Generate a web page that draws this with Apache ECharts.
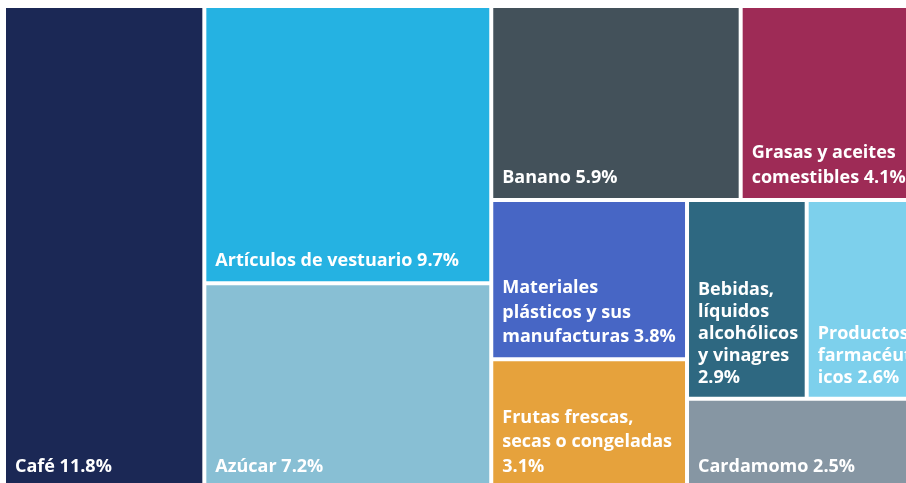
<!DOCTYPE html>
<html><head><meta charset="utf-8">
<script src="https://cdn.jsdelivr.net/npm/echarts@6/dist/echarts.min.js"></script>
<style>html,body{margin:0;padding:0;background:#fff;overflow:hidden}#c{width:906px;height:483px}</style>
</head><body><div id="c"></div>
<script>
const names = ['Café','Artículos de vestuario','Azúcar','Banano','Grasas y aceites comestibles','Materiales plásticos y sus manufacturas','Frutas frescas, secas o congeladas','Bebidas, líquidos alcohólicos y vinagres','Productos farmacéuticos','Cardamomo'];
// label text as wrapped in the reference
const labelNames = ['Café','Artículos de vestuario','Azúcar','Banano','Grasas y aceites\ncomestibles','Materiales\nplásticos y sus\nmanufacturas','Frutas frescas,\nsecas o congeladas\n','Bebidas,\nlíquidos\nalcohólicos\ny vinagres\n','Productos\nfarmacéut\nicos','Cardamomo'];
const values = [11.8, 9.7, 7.2, 5.9, 4.1, 3.8, 3.1, 2.9, 2.6, 2.5];
const colors = ['#1b2855','#25b2e2','#88bfd4','#43515a','#9e2b56','#4766c5','#e6a23c','#2e6881','#7dd0ec','#8696a3'];
// hierarchy of the blocks (indexes into the arrays above)
const groups = [0, [1, 2], [[3, 4], [5, 6], [7, 8], 9]];
// blocks whose labels use tighter line spacing
const tight = [7, 8];

function build(g) {
  if (Array.isArray(g)) {
    return { name: '', itemStyle: { borderWidth: 0, gapWidth: 0 }, children: g.map(build) };
  }
  const item = { name: names[g], value: values[g], itemStyle: { color: colors[g], borderWidth: 2, borderColor: '#fff' } };
  if (tight.includes(g)) item.label = { lineHeight: 22 };
  return item;
}

const chart = echarts.init(document.getElementById('c'), null, { renderer: 'canvas' });
chart.setOption({
  animation: false,
  series: [{
    type: 'treemap',
    left: 4, top: 6, width: 910, height: 483,
    sort: false,
    squareRatio: 0.0001,
    roam: false,
    nodeClick: false,
    breadcrumb: { show: false },
    visibleMin: 0,
    itemStyle: { borderWidth: 0, gapWidth: 0, borderColor: '#fff' },
    label: {
      show: true,
      position: 'insideBottomLeft',
      color: '#fff',
      fontFamily: 'Open Sans',
      fontWeight: 'bold',
      fontSize: 18,
      lineHeight: 24.5,
      padding: [0, 2, 8, 9],
      overflow: 'none',
      formatter: p => {
        const i = names.indexOf(p.name);
        const n = labelNames[i];
        return n.endsWith('\n') ? n + p.value + '%' : n + ' ' + p.value + '%';
      }
    },
    upperLabel: { show: false },
    data: groups.map(build)
  }]
});
</script></body></html>
